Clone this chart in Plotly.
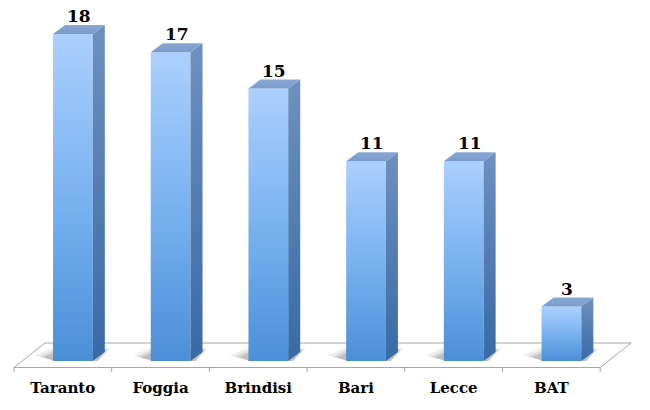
import plotly.graph_objects as go

categories = ["Taranto", "Foggia", "Brindisi", "Bari", "Lecce", "BAT"]
values = [18, 17, 15, 11, 11, 3]

# geometry in data units (x: category index, y: value)
FL, FR = -0.10, 0.307      # front face left/right offset from category center
DX, DY = 0.123, 0.49       # depth projection offset
FLOOR_DX = 0.317
FLOOR_FRONT, FLOOR_BACK = -0.358, 0.99
TICK_BOTTOM = -0.605

FRONT_SCALE = [[0, "#4a8fd8"], [0.5, "#7ab2f0"], [1, "#abd0fd"]]
SIDE_SCALE = [[0, "#386aa6"], [1, "#6e90be"]]
TOP_SCALE = [[0, "#7a9ccc"], [1, "#88a7d2"]]

fig = go.Figure()
n = len(categories)

# floor
fx = [-0.5, n - 0.5, n - 0.5 + FLOOR_DX, -0.5 + FLOOR_DX, -0.5]
fy = [FLOOR_FRONT, FLOOR_FRONT, FLOOR_BACK, FLOOR_BACK, FLOOR_FRONT]
fig.add_trace(go.Scatter(x=fx, y=fy, mode="lines", fill="toself", fillcolor="white",
                         line=dict(color="#a6a6a6", width=1), hoverinfo="skip", showlegend=False))
# boundary ticks
tx, ty = [], []
for k in range(n + 1):
    tx += [k - 0.5, k - 0.5, None]
    ty += [FLOOR_FRONT, TICK_BOTTOM, None]
fig.add_trace(go.Scatter(x=tx, y=ty, mode="lines", line=dict(color="#a6a6a6", width=1),
                         hoverinfo="skip", showlegend=False))

for i, v in enumerate(values):
    l, r = i + FL, i + FR
    # soft shadow
    for alpha, grow in [(0.10, 0.12), (0.14, 0.07), (0.20, 0.03)]:
        sx = [l + 0.02, l - 0.07 - grow, l - 0.02 - grow + DX, r + DX + grow * 0.5, r + 0.05, l + 0.02]
        sy = [0.0, 0.18 + grow, 0.58 + grow, 0.58 + grow, 0.0, 0.0]
        fig.add_trace(go.Scatter(x=sx, y=sy, mode="lines", fill="toself",
                                 fillcolor=f"rgba(90,90,90,{alpha})", line=dict(width=0),
                                 hoverinfo="skip", showlegend=False))
    # front face
    fig.add_trace(go.Scatter(x=[l, r, r, l, l], y=[0, 0, v, v, 0], mode="lines", fill="toself",
                             fillgradient=dict(type="vertical", colorscale=FRONT_SCALE),
                             line=dict(width=0), hoverinfo="skip", showlegend=False))
    # side face
    fig.add_trace(go.Scatter(x=[r, r + DX, r + DX, r, r], y=[0, DY, v + DY, v, 0], mode="lines",
                             fill="toself", fillgradient=dict(type="vertical", colorscale=SIDE_SCALE),
                             line=dict(width=0), hoverinfo="skip", showlegend=False))
    # top face
    fig.add_trace(go.Scatter(x=[l, r, r + DX, l + DX, l], y=[v, v, v + DY, v + DY, v], mode="lines",
                             fill="toself", fillgradient=dict(type="vertical", colorscale=TOP_SCALE),
                             line=dict(width=0), hoverinfo="skip", showlegend=False))
    fig.add_annotation(x=(l + r) / 2 + DX / 2, y=v + DY, text=str(v), showarrow=False,
                       yanchor="bottom", yshift=-3,
                       font=dict(family="DejaVu Serif", size=17, color="black", weight="bold"))

fig.update_layout(
    width=650, height=410,
    margin=dict(l=0, r=0, t=0, b=37),
    paper_bgcolor="white", plot_bgcolor="white",
    xaxis=dict(range=[-0.643, 6.01], tickvals=list(range(n)), ticktext=categories,
               showgrid=False, zeroline=False, showline=False, ticks="",
               ticklabelstandoff=4,
               tickfont=dict(family="DejaVu Serif", size=15, color="black", weight="bold")),
    yaxis=dict(range=[-0.66, 19.87], showgrid=False, zeroline=False, showline=False,
               showticklabels=False, ticks=""),
)
fig.write_html("out.html", config={"displayModeBar": False},
               post_script="document.body.style.margin='0';")
